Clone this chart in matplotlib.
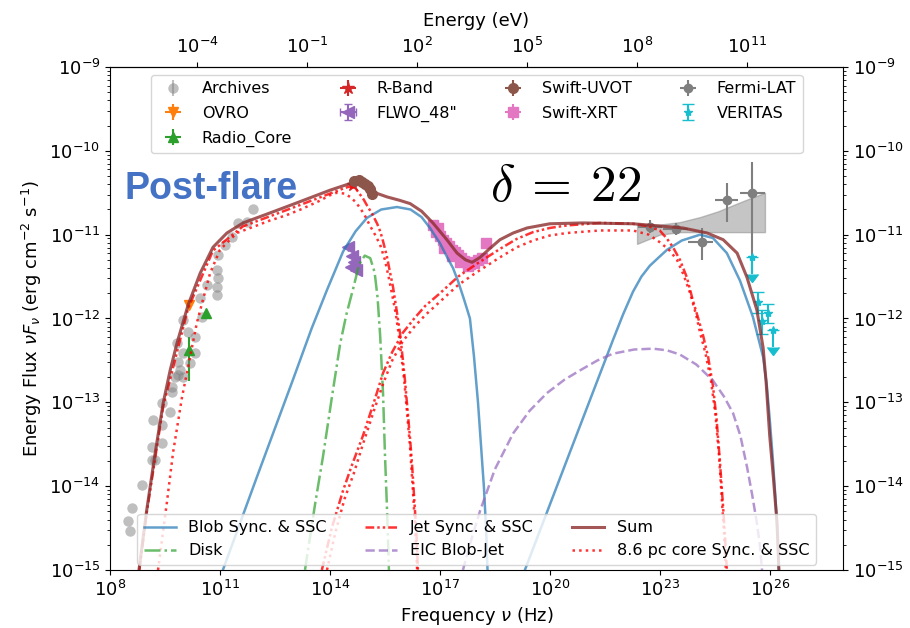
import numpy as np
import matplotlib.pyplot as plt

H_EV = 4.135667696e-15  # Planck constant in eV s

# ---- model curves: log10(nu/Hz), log10(nuFnu / erg cm^-2 s^-1) ----
blob_sync_lognu = [11.08, 12.0, 13.0, 13.5, 13.92, 14.36, 14.7, 15.01, 15.4, 15.83, 16.2, 16.5,
                   16.73, 17.0, 17.2, 17.36, 17.5, 17.65, 17.75, 17.82, 17.93, 18.04, 18.12,
                   18.2, 18.26, 18.3]
blob_sync_logf = [-15.0, -13.9, -12.72, -12.12, -11.66, -11.2, -10.96, -10.8, -10.7, -10.67, -10.7,
                  -10.79, -10.92, -11.1, -11.27, -11.4, -11.56, -11.76, -11.9, -12.0, -12.45, -13.0,
                  -13.5, -14.0, -14.5, -15.0]
blob_ssc_lognu = [19.32, 20.5, 21.72, 22.0, 22.27, 22.5, 22.73, 23.0, 23.2, 23.6, 24.1, 24.45,
                  24.83, 25.19, 25.54, 25.82, 25.92, 26.0, 26.08, 26.15, 26.21, 26.25]
blob_ssc_logf = [-15.0, -13.65, -12.26, -11.95, -11.68, -11.5, -11.37, -11.26, -11.18, -11.07, -11.0,
                 -11.04, -11.22, -11.55, -11.98, -12.46, -12.8, -13.2, -13.65, -14.1, -14.55, -15.0]

disk_lognu = [13.32, 13.6, 13.81, 14.05, 14.28, 14.45, 14.63, 14.8, 14.95, 15.1, 15.22, 15.3,
              15.37, 15.45, 15.5, 15.56, 15.61]
disk_logf = [-15.0, -14.2, -13.65, -12.95, -12.3, -11.95, -11.65, -11.35, -11.25, -11.28, -11.45,
             -11.75, -12.2, -12.9, -13.6, -14.3, -15.0]

jet_sync_lognu = [8.8, 9.0, 9.45, 10.13, 10.81, 11.63, 12.37, 13.1, 13.7, 14.0, 14.3, 14.5, 14.62,
                  14.72, 14.82, 14.92, 15.01, 15.15, 15.29, 15.38, 15.45, 15.55, 15.64, 15.72,
                  15.82, 15.91, 15.98, 16.05, 16.12, 16.19, 16.25, 16.3, 16.36, 16.4]
jet_sync_logf = [-15.0, -14.32, -13.05, -11.88, -11.19, -10.9, -10.78, -10.66, -10.56, -10.51,
                 -10.46, -10.43, -10.43, -10.46, -10.52, -10.58, -10.65, -10.75, -10.87, -10.97,
                 -11.08, -11.25, -11.45, -11.62, -11.9, -12.17, -12.45, -12.75, -13.1, -13.45,
                 -13.8, -14.15, -14.55, -15.0]
jet_ssc_lognu = [13.78, 14.05, 14.36, 14.6, 14.9, 15.2, 15.45, 15.7, 15.99, 16.3, 16.6, 17.0, 17.5,
                 18.0, 18.64, 19.1, 19.54, 20.0, 20.47, 21.37, 22.27, 22.7, 23.0, 23.2, 23.36,
                 23.55, 23.74, 23.9, 24.05, 24.18, 24.32, 24.45, 24.55, 24.64, 24.72, 24.78, 24.83]
jet_ssc_logf = [-15.0, -14.5, -14.05, -13.75, -13.4, -13.0, -12.65, -12.4, -12.17, -12.0, -11.85,
                -11.7, -11.5, -11.35, -11.17, -11.05, -10.97, -10.92, -10.89, -10.86, -10.87, -10.9,
                -10.95, -11.05, -11.15, -11.3, -11.51, -11.78, -12.0, -12.2, -12.46, -12.8, -13.2,
                -13.7, -14.2, -14.6, -15.0]

eic_lognu = [17.63, 17.85, 18.1, 18.5, 19.0, 19.45, 19.92, 20.4, 20.82, 21.3, 21.72, 22.3, 22.82,
             23.2, 23.55, 24.0, 24.45, 24.75, 25.0, 25.2, 25.38, 25.52, 25.65, 25.73, 25.79]
eic_logf = [-15.0, -14.65, -14.29, -13.8, -13.37, -13.1, -12.89, -12.73, -12.62, -12.5, -12.42,
            -12.37, -12.36, -12.38, -12.43, -12.55, -12.74, -12.93, -13.13, -13.4, -13.77, -14.1,
            -14.44, -14.7, -15.0]

sum_lognu = [8.79, 9.0, 9.23, 9.45, 9.64, 9.83, 10.13, 10.46, 10.81, 11.19, 11.63, 12.37, 13.1,
             14.0, 14.55, 14.65, 14.74, 14.85, 15.0, 15.3, 15.56, 15.9, 16.19, 16.5, 16.81, 17.19,
             17.47, 17.7, 17.88, 18.1, 18.35, 18.64, 19.0, 19.38, 20.0, 20.9, 22.27, 23.63, 24.29,
             24.73, 25.11, 25.38, 25.65, 25.82, 25.9, 26.0, 26.1, 26.2, 26.25]
sum_logf = [-15.0, -14.29, -13.61, -13.01, -12.62, -12.29, -11.84, -11.46, -11.15, -10.98, -10.86,
            -10.74, -10.62, -10.47, -10.39, -10.37, -10.36, -10.38, -10.44, -10.51, -10.55, -10.59,
            -10.63, -10.72, -10.86, -11.06, -11.22, -11.3, -11.33, -11.27, -11.17, -11.06, -10.98,
            -10.92, -10.87, -10.86, -10.87, -10.92, -10.98, -11.06, -11.22, -11.51, -11.9, -12.35,
            -12.75, -13.4, -13.9, -14.44, -15.0]

core_sync_lognu = [9.31, 9.55, 9.72, 9.96, 10.37, 10.73, 11.0, 11.46, 12.01, 12.37, 12.8, 13.2,
                   13.7, 14.0, 14.19, 14.4, 14.55, 14.7, 14.82, 14.95, 15.09, 15.23, 15.37, 15.5,
                   15.6, 15.7, 15.8, 15.88, 15.95, 16.03, 16.1, 16.18, 16.25, 16.32, 16.38]
core_sync_logf = [-15.0, -14.2, -13.6, -12.95, -12.05, -11.46, -11.18, -10.98, -10.89, -10.83,
                  -10.77, -10.7, -10.6, -10.53, -10.5, -10.51, -10.55, -10.61, -10.68, -10.77,
                  -10.89, -11.0, -11.12, -11.3, -11.5, -11.72, -11.95, -12.2, -12.45, -12.75,
                  -13.1, -13.5, -13.95, -14.45, -15.0]
core_ssc_lognu = [13.92, 14.15, 14.4, 14.65, 14.9, 15.2, 15.45, 15.7, 15.99, 16.3, 16.6, 17.0, 17.5,
                  18.0, 18.64, 19.1, 19.54, 20.0, 20.47, 21.37, 22.27, 22.7, 23.0, 23.25, 23.47,
                  23.65, 23.83, 24.0, 24.1, 24.25, 24.4, 24.52, 24.62, 24.7, 24.76, 24.8]
core_ssc_logf = [-15.0, -14.55, -14.15, -13.85, -13.5, -13.1, -12.78, -12.5, -12.27, -12.1, -11.96,
                 -11.8, -11.6, -11.45, -11.27, -11.15, -11.07, -11.01, -10.98, -10.95, -10.95, -11.0,
                 -11.09, -11.18, -11.3, -11.48, -11.7, -11.97, -12.17, -12.42, -12.75, -13.15,
                 -13.65, -14.2, -14.6, -15.0]

# ---- observations ----
arch_lognu = [11.90, 11.74, 11.49, 11.33, 11.14, 10.95, 10.92, 10.95, 10.92, 10.92, 10.65, 10.46,
              10.51, 9.99, 10.13, 10.32, 9.83, 9.99, 10.32, 9.86, 10.18, 9.91, 9.77, 9.69, 9.86,
              9.99, 9.69, 9.42, 9.64, 9.17, 9.42, 9.42, 9.15, 9.15, 9.23, 8.87, 8.60, 8.49, 8.55]
arch_logf = [-10.69, -10.85, -10.86, -11.03, -11.12, -11.24, -11.42, -11.52, -11.63, -11.72, -11.60,
             -11.76, -11.98, -12.02, -12.16, -12.22, -12.29, -12.41, -12.41, -12.52, -12.53, -12.62,
             -12.70, -12.82, -12.68, -12.70, -12.88, -13.01, -13.12, -13.21, -13.27, -13.49, -13.53,
             -13.69, -13.69, -13.99, -14.26, -14.41, -14.53]

ovro_lognu = [10.16]
ovro_logf = [-11.84]

core_lognu = [10.62, 10.16]
core_logf = [-11.94, -12.38]
core_logf_lo = [-11.94, -12.74]
core_logf_hi = [-11.94, -12.22]

rband_lognu = [14.63]
rband_logf = [-10.41]

flwo_lognu = [14.49, 14.6, 14.66, 14.72, 14.58]
flwo_logf = [-11.15, -11.25, -11.33, -11.42, -11.38]

uvot_lognu = [14.66, 14.78, 14.88, 14.96, 15.03, 15.10, 15.16]
uvot_logf = [-10.36, -10.35, -10.37, -10.40, -10.42, -10.46, -10.51]

xrt_lognu = [16.81, 16.89, 17.00, 17.09, 17.17, 17.25, 17.33, 17.41, 17.50, 17.58, 17.66, 17.74,
             17.82, 17.93, 18.04, 18.15, 16.95, 17.11, 17.33, 17.55, 17.77, 18.26]
xrt_logf = [-10.89, -10.97, -11.02, -11.06, -11.10, -11.14, -11.18, -11.21, -11.24, -11.28, -11.32,
            -11.33, -11.35, -11.34, -11.30, -11.28, -10.92, -11.16, -11.26, -11.33, -11.37, -11.10]

fermi_lognu = [22.73, 23.44, 24.15, 24.83, 25.52]
fermi_lognu_lo = [22.41, 23.09, 23.77, 24.51, 25.19]
fermi_lognu_hi = [23.06, 23.77, 24.45, 25.14, 25.87]
fermi_logf = [-10.91, -10.93, -11.09, -10.59, -10.50]
fermi_logf_lo = [-10.98, -11.00, -11.30, -10.85, -11.46]
fermi_logf_hi = [-10.83, -10.86, -10.92, -10.38, -10.13]

bowtie_lognu = [22.38, 23.0, 23.55, 24.1, 24.6, 25.1, 25.5, 25.87]
bowtie_logf_hi = [-10.89, -10.88, -10.85, -10.79, -10.72, -10.63, -10.56, -10.50]
bowtie_logf_lo = [-11.11, -11.00, -10.97, -10.97, -10.97, -10.97, -10.97, -10.97]

veritas_lognu = [25.52, 25.68, 25.80, 25.96, 26.09]
veritas_logf = [-11.27, -11.80, -12.03, -11.93, -12.14]
veritas_logf_lo = [-11.47, -11.94, -12.18, -12.05, -12.34]
veritas_logf_hi = [-11.27, -11.68, -11.90, -11.83, -12.14]
veritas_ul = [True, False, False, False, True]


def p(a):
    return 10.0 ** np.asarray(a, dtype=float)


def err(val, lo, hi):
    v = p(val)
    return [v - p(lo), p(hi) - v]


fig, ax = plt.subplots(figsize=(9.1, 6.28), dpi=100)
fig.subplots_adjust(left=0.1209, right=0.9264, bottom=0.0924, top=0.8933)

# data points
n = len(arch_lognu)
ax.errorbar(p(arch_lognu), p(arch_logf), yerr=np.zeros(n), fmt='o', color='gray', alpha=0.5,
            ms=7.5, mew=0, label='Archives', zorder=2)
ax.errorbar(p(ovro_lognu), p(ovro_logf), xerr=[0], yerr=[0], fmt='v', color='tab:orange', ms=7,
            label='OVRO', zorder=2)
ax.errorbar(p(core_lognu), p(core_logf), xerr=[0, 0], yerr=err(core_logf, core_logf_lo, core_logf_hi),
            fmt='^', color='tab:green', ms=7, label='Radio_Core', zorder=2)
ax.errorbar(p(rband_lognu), p(rband_logf), xerr=[0], yerr=[0], fmt='*', color='tab:red', ms=9,
            label='R-Band', zorder=2)
ax.errorbar(p(flwo_lognu), p(flwo_logf), xerr=np.zeros(5), yerr=np.zeros(5), fmt='<',
            color='tab:purple', ms=8, capsize=3, label='FLWO_48"', zorder=2)
ax.errorbar(p(uvot_lognu), p(uvot_logf), xerr=np.zeros(7), yerr=np.zeros(7), fmt='o',
            color='tab:brown', ms=7, label='Swift-UVOT', zorder=6)
m = len(xrt_lognu)
ax.errorbar(p(xrt_lognu), p(xrt_logf), xerr=np.zeros(m), yerr=np.zeros(m),
            fmt='s', color='tab:pink', ms=6.5, label='Swift-XRT', zorder=2)
ax.fill_between(p(bowtie_lognu), p(bowtie_logf_lo), p(bowtie_logf_hi), color='gray', alpha=0.45,
                lw=1, zorder=1)
ax.errorbar(p(fermi_lognu), p(fermi_logf),
            xerr=err(fermi_lognu, fermi_lognu_lo, fermi_lognu_hi),
            yerr=err(fermi_logf, fermi_logf_lo, fermi_logf_hi),
            fmt='o', color='tab:gray', ms=6, label='Fermi-LAT', zorder=3)
ax.errorbar(p(veritas_lognu), p(veritas_logf), yerr=err(veritas_logf, veritas_logf_lo, veritas_logf_hi),
            uplims=veritas_ul, fmt='*', color='tab:cyan', ms=6, capsize=4, label='VERITAS', zorder=3)
data_handles, data_labels = ax.get_legend_handles_labels()

# model curves
lw = 1.8
h_blob, = ax.plot(p(blob_sync_lognu), p(blob_sync_logf), color='tab:blue', alpha=0.7, lw=lw,
                  label='Blob Sync. & SSC', zorder=4)
ax.plot(p(blob_ssc_lognu), p(blob_ssc_logf), color='tab:blue', alpha=0.7, lw=lw, zorder=4)
h_disk, = ax.plot(p(disk_lognu), p(disk_logf), color='tab:green', alpha=0.7, lw=lw, ls='-.',
                  label='Disk', zorder=4)
jet_ls = (0, (3.5, 1.2, 1, 1.2, 1, 1.2))
h_jet, = ax.plot(p(jet_sync_lognu), p(jet_sync_logf), color='red', alpha=0.8, lw=lw, ls=jet_ls,
                 label='Jet Sync. & SSC', zorder=4)
ax.plot(p(jet_ssc_lognu), p(jet_ssc_logf), color='red', alpha=0.8, lw=lw, ls=jet_ls, zorder=4)
h_eic, = ax.plot(p(eic_lognu), p(eic_logf), color='tab:purple', alpha=0.7, lw=lw, ls='--',
                 label='EIC Blob-Jet', zorder=4)
h_sum, = ax.plot(p(sum_lognu), p(sum_logf), color='#8c2d2d', alpha=0.8, lw=2.2, label='Sum', zorder=5)
h_core, = ax.plot(p(core_sync_lognu), p(core_sync_logf), color='red', alpha=0.8, lw=lw, ls=':',
                  label='8.6 pc core Sync. & SSC', zorder=4)
ax.plot(p(core_ssc_lognu), p(core_ssc_logf), color='red', alpha=0.8, lw=lw, ls=':', zorder=4)

ax.set_xscale('log')
ax.set_yscale('log')
ax.set_xlim(1e8, 1e28)
ax.set_ylim(1e-15, 1e-9)
ax.set_xticks(p(np.arange(8, 27, 3)))
ax.set_yticks(p(np.arange(-15, -8)))
ax.xaxis.set_minor_locator(plt.NullLocator())
ax.tick_params(labelsize=13)
ax.tick_params(axis='y', which='both', right=True, labelright=True)
ax.set_xlabel(r'Frequency $\nu$ (Hz)', fontsize=13)
ax.set_ylabel(r'Energy Flux $\nu F_\nu$ (erg cm$^{-2}$ s$^{-1}$)', fontsize=13)

top = ax.secondary_xaxis('top', functions=(lambda nu: nu * H_EV, lambda e: e / H_EV))
top.set_xticks(p(np.arange(-4, 12, 3)))
top.xaxis.set_minor_locator(plt.NullLocator())
top.tick_params(labelsize=13)
top.set_xlabel('Energy (eV)', fontsize=13, labelpad=8)

leg1 = ax.legend(data_handles, data_labels, loc='upper center', ncol=4, fontsize=11.5,
                 columnspacing=2.5, labelspacing=0.6, bbox_to_anchor=(0.5, 1.0))
ax.add_artist(leg1)
model_handles = [h_blob, h_disk, h_jet, h_eic, h_sum, h_core]
ax.legend(model_handles, [h.get_label() for h in model_handles],
          loc='lower center', ncol=3, fontsize=11.5, columnspacing=2.4,
          bbox_to_anchor=(0.5, -0.005))

ax.text(0.02, 0.758, 'Post-flare', transform=ax.transAxes, fontsize=27, fontweight='bold',
        color='#4472c4', family='Liberation Sans', va='center')
ax.text(0.518, 0.762, r'$\delta\:=\:22$', transform=ax.transAxes, fontsize=37, va='center',
        math_fontfamily='cm')

fig.savefig('out.png', dpi=100)
